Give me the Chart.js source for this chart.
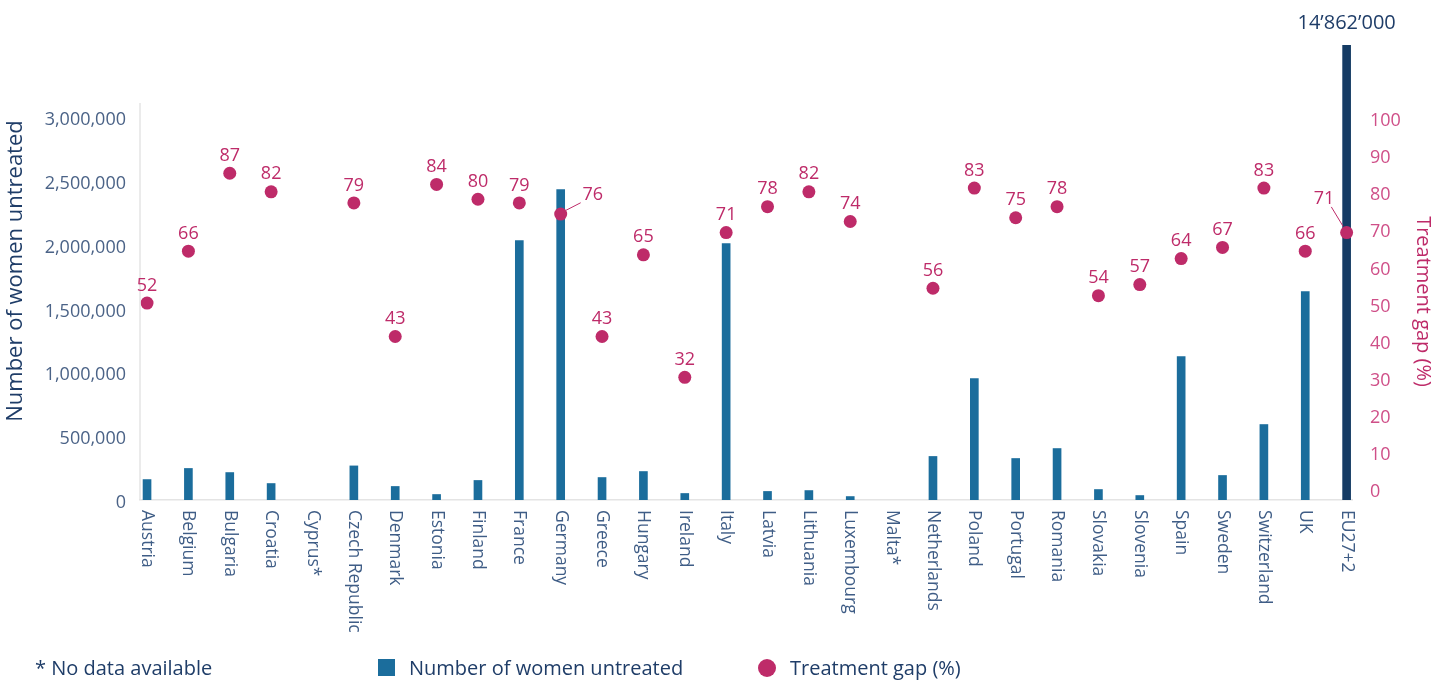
<!DOCTYPE html>
<html>
<head>
<meta charset="utf-8">
<script src="https://cdn.jsdelivr.net/npm/chart.js@4.4.1/dist/chart.umd.min.js"></script>
<style>
    body { margin: 0; background: #fff; font-family: 'Open Sans', sans-serif; }
    #wrap { position: relative; width: 1445px; height: 680px; }
    .legend-item { position: absolute; top: 655px; height: 26px; line-height: 26px; font-size: 20px; color: #1f3d68; white-space: nowrap; }
    .swatch { position: absolute; top: 659px; width: 17px; height: 17px; }
    .dot { position: absolute; top: 659px; width: 18px; height: 18px; border-radius: 50%; }
</style>
</head>
<body>
<div id="wrap">
    <canvas id="gapChart" width="1445" height="680"></canvas>
    <div class="legend-item" style="left:35px">* No data available</div>
    <div class="swatch" id="barSwatch" style="left:378px"></div>
    <div class="legend-item" id="barLegend" style="left:409px"></div>
    <div class="dot" id="dotSwatch" style="left:758px"></div>
    <div class="legend-item" id="dotLegend" style="left:790px"></div>
</div>
<script>
// Chart data
const countries = ['Austria', 'Belgium', 'Bulgaria', 'Croatia', 'Cyprus*', 'Czech Republic', 'Denmark', 'Estonia',
    'Finland', 'France', 'Germany', 'Greece', 'Hungary', 'Ireland', 'Italy', 'Latvia', 'Lithuania', 'Luxembourg',
    'Malta*', 'Netherlands', 'Poland', 'Portugal', 'Romania', 'Slovakia', 'Slovenia', 'Spain', 'Sweden',
    'Switzerland', 'UK', 'EU27+2'];
const womenUntreated = [160000, 247000, 215000, 129000, null, 267000, 106000, 43000,
    153000, 2032000, 2431000, 176000, 223000, 51000, 2009000, 67000, 74000, 27000,
    null, 341000, 951000, 325000, 403000, 82000, 35000, 1124000, 192000,
    591000, 1633000, 14862000];
const treatmentGap = [52, 66, 87, 82, null, 79, 43, 84,
    80, 79, 76, 43, 65, 32, 71, 78, 82, 74,
    null, 56, 83, 75, 78, 54, 57, 64, 67,
    83, 66, 71];
const leftTicks = [0, 500000, 1000000, 1500000, 2000000, 2500000, 3000000];
const rightTicks = [0, 10, 20, 30, 40, 50, 60, 70, 80, 90, 100];

const barLabel = 'Number of women untreated';
const gapLabel = 'Treatment gap (%)';
const totalName = 'EU27+2';

// Colours
const barColor = '#1b6d9c';
const totalColor = '#153b64';
const gapColor = '#be2b69';
const navy = '#1f3d68';
const tickColor = '#4b6387';
const axisLine = '#e4e4e4';

// labels that sit beside their dot with a short leader line
const callouts = {
    'Germany': { text: [32, -19], line: [5, -3.6, 20, -11.3] },
    'EU27+2': { text: [-22.6, -34], line: [-3.6, -6.4, -15.3, -25.7] }
};
const barOverflow = 58; // how far the EU27+2 bar pokes above the plot

document.getElementById('barSwatch').style.background = barColor;
document.getElementById('barLegend').textContent = barLabel;
document.getElementById('dotSwatch').style.background = gapColor;
document.getElementById('dotLegend').textContent = gapLabel;

const barPoints = [];
const gapPoints = [];
countries.forEach((c, i) => {
    if (womenUntreated[i] !== null) barPoints.push({ x: i, y: womenUntreated[i] });
    if (treatmentGap[i] !== null) gapPoints.push({ x: i, y: treatmentGap[i] });
});

function swissFormat(v) {
    return String(v).replace(/\B(?=(\d{3})+(?!\d))/g, '\u2019');
}

// Extra drawing: value labels, rotated country names, axis line, left title
const decorPlugin = {
    id: 'decor',
    afterDatasetsDraw(chart) {
        const { ctx, chartArea, scales } = chart;
        const xs = scales.x;
        const ys = scales.y1;
        ctx.save();

        // left axis line
        ctx.strokeStyle = axisLine;
        ctx.lineWidth = 1.5;
        ctx.beginPath();
        ctx.moveTo(chartArea.left, chartArea.top);
        ctx.lineTo(chartArea.left, chartArea.bottom);
        ctx.stroke();

        // treatment gap labels
        ctx.font = '18px "Open Sans"';
        ctx.fillStyle = gapColor;
        ctx.strokeStyle = gapColor;
        ctx.lineWidth = 1;
        ctx.textAlign = 'center';
        ctx.textBaseline = 'middle';
        countries.forEach((c, i) => {
            if (treatmentGap[i] === null) return;
            const px = xs.getPixelForValue(i);
            const py = ys.getPixelForValue(treatmentGap[i]);
            const co = callouts[c];
            if (co) {
                ctx.fillText(treatmentGap[i], px + co.text[0], py + co.text[1]);
                ctx.beginPath();
                ctx.moveTo(px + co.line[0], py + co.line[1]);
                ctx.lineTo(px + co.line[2], py + co.line[3]);
                ctx.stroke();
            } else {
                ctx.fillText(treatmentGap[i], px, py - 17.5);
            }
        });

        // total bar value above the cut bar
        const ti = countries.indexOf(totalName);
        ctx.font = '20px "Open Sans"';
        ctx.fillStyle = navy;
        ctx.fillText(swissFormat(womenUntreated[ti]), xs.getPixelForValue(ti), chartArea.top - barOverflow - 22);

        // country names, rotated clockwise
        ctx.font = '17.5px "Open Sans"';
        ctx.fillStyle = '#3f5d86';
        ctx.textAlign = 'left';
        countries.forEach((c, i) => {
            ctx.save();
            ctx.translate(xs.getPixelForValue(i), chartArea.bottom + 10);
            ctx.rotate(Math.PI / 2);
            ctx.fillText(c, 0, 0);
            ctx.restore();
        });

        // left axis title
        ctx.font = '22px "Open Sans"';
        ctx.fillStyle = navy;
        ctx.textAlign = 'center';
        ctx.translate(16, 271);
        ctx.rotate(-Math.PI / 2);
        ctx.fillText(barLabel, 0, 0);
        ctx.restore();
    }
};

new Chart(document.getElementById('gapChart'), {
    type: 'bar',
    data: {
        datasets: [{
            type: 'bar',
            label: barLabel,
            data: barPoints,
            yAxisID: 'y',
            order: 2,
            barThickness: 8,
            backgroundColor: ctx => (ctx.raw && ctx.raw.x === countries.indexOf(totalName)) ? totalColor : barColor,
            clip: { left: 0, top: barOverflow, right: 0, bottom: 0 }
        }, {
            type: 'scatter',
            label: gapLabel,
            data: gapPoints,
            yAxisID: 'y1',
            order: 1,
            pointRadius: 6.5,
            pointBackgroundColor: gapColor,
            pointBorderWidth: 0,
            clip: false
        }]
    },
    options: {
        responsive: false,
        animation: false,
        layout: { padding: { top: 103, left: 0, right: 0, bottom: 0 } },
        plugins: {
            legend: { display: false },
            tooltip: { enabled: false }
        },
        scales: {
            x: {
                type: 'linear',
                offset: false,
                min: -0.17,
                max: 29.13,
                grid: { display: false, drawTicks: false, offset: false },
                border: { display: true, color: axisLine, width: 1.5 },
                ticks: { display: false },
                afterFit: scale => { scale.height = 180; }
            },
            y: {
                position: 'left',
                min: 0,
                max: 3109000,
                grid: { display: false, drawTicks: false },
                border: { display: false },
                afterBuildTicks: scale => { scale.ticks = leftTicks.map(v => ({ value: v })); },
                ticks: {
                    padding: 14,
                    labelOffset: 3,
                    color: tickColor,
                    font: { family: 'Open Sans', size: 18 },
                    callback: v => v.toLocaleString('en-US')
                },
                afterFit: scale => { scale.width = 140; }
            },
            y1: {
                position: 'right',
                min: -1.08,
                max: 105.94,
                grid: { display: false, drawTicks: false },
                border: { display: false },
                afterBuildTicks: scale => { scale.ticks = rightTicks.map(v => ({ value: v })); },
                ticks: {
                    padding: 18,
                    labelOffset: -4,
                    color: '#cf4f88',
                    font: { family: 'Open Sans', size: 18 },
                    callback: v => v
                },
                title: {
                    display: true,
                    text: gapLabel,
                    color: gapColor,
                    font: { family: 'Open Sans', size: 20 },
                    padding: { top: 10, bottom: 0 }
                },
                afterFit: scale => { scale.width = 93; }
            }
        }
    },
    plugins: [decorPlugin]
});
</script>
</body>
</html>
